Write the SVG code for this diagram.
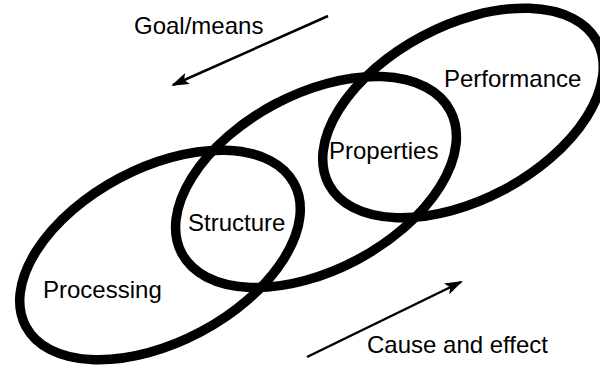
<svg xmlns="http://www.w3.org/2000/svg" width="600" height="365" viewBox="0 0 600 365">
<style>
.ring{fill:none;stroke:#000;stroke-width:9.5}
.lbl{font-family:"Liberation Sans",Arial,Helvetica,sans-serif;font-size:24px;fill:#000}
.arr{stroke:#000;stroke-width:2.5;fill:none}
</style>
<defs>
<marker id="ah" viewBox="0 0 18 12" refX="16" refY="6" markerWidth="18" markerHeight="12" markerUnits="userSpaceOnUse" orient="auto">
<path d="M0,0 L18,6 L0,12 L4,6 Z" fill="#000"/>
</marker>
</defs>
<rect width="600" height="365" fill="#fff"/>
<g id="processing">
<ellipse class="ring" cx="160" cy="255" rx="152" ry="87" transform="rotate(-28 160 255)"/>
<text class="lbl" x="43" y="298">Processing</text>
</g>
<g id="middle">
<ellipse class="ring" cx="316" cy="182" rx="152" ry="88" transform="rotate(-28 316 182)"/>
</g>
<g id="performance">
<ellipse class="ring" cx="463" cy="113" rx="152" ry="87" transform="rotate(-28 463 113)"/>
<text class="lbl" x="444" y="87">Performance</text>
</g>
<g id="structure">
<text class="lbl" x="188" y="231">Structure</text>
</g>
<g id="properties">
<text class="lbl" x="329" y="159">Properties</text>
</g>
<g id="connectors">
<line class="arr" x1="328" y1="16" x2="173" y2="85" marker-end="url(#ah)"/>
<line class="arr" x1="307" y1="357" x2="461" y2="282" marker-end="url(#ah)"/>
</g>
<g id="arrow-labels">
<text class="lbl" x="134" y="34">Goal/means</text>
<text class="lbl" x="367" y="353">Cause and effect</text>
</g>
</svg>
